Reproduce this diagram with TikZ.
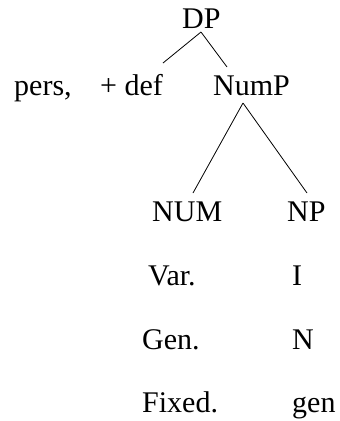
\documentclass[tikz,border=0pt]{standalone}
\usepackage{fontspec}
\setmainfont{Liberation Serif}
\begin{document}
\begin{tikzpicture}[x=1pt,y=-1pt,
  lbl/.style={anchor=base west,inner sep=0pt,font=\fontsize{30}{36}\selectfont},
  branch/.style={line width=0.8pt}]
\useasboundingbox (0,0) rectangle (340,421);
\node[lbl] (dp) at (182,28) {DP};
\node[lbl] (pers) at (14,95) {pers,};
\node[lbl] (def) at (100,95) {+ def};
\node[lbl] (nump) at (213,95) {NumP};
\node[lbl] (num) at (152,221) {NUM};
\node[lbl] (np) at (287,221) {NP};
\node[lbl] (var) at (148,285) {Var.};
\node[lbl] (i) at (292,285) {I};
\node[lbl] (gen) at (142,349) {Gen.};
\node[lbl] (n) at (292,349) {N};
\node[lbl] (fixed) at (142,412) {Fixed.};
\node[lbl] (genl) at (292,412) {gen};
\coordinate (dpapex) at (201,32);
\coordinate (defend) at (163,63);
\coordinate (numpend) at (227,67);
\coordinate (numpapex) at (243,103);
\coordinate (numend) at (193,193);
\coordinate (npend) at (307,193);
\draw[branch] (dpapex) -- (defend);
\draw[branch] (dpapex) -- (numpend);
\draw[branch] (numpapex) -- (numend);
\draw[branch] (numpapex) -- (npend);
\end{tikzpicture}
\end{document}
